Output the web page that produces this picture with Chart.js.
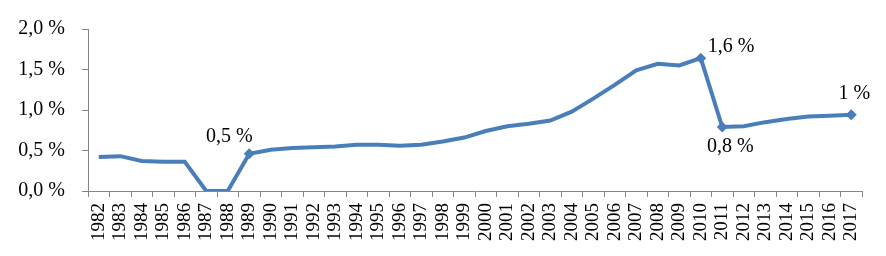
<!DOCTYPE html>
<html>
<head>
<meta charset="utf-8">
<script src="https://cdn.jsdelivr.net/npm/chart.js@4/dist/chart.umd.min.js"></script>
<style>
  html, body { margin: 0; padding: 0; background: #fff; }
  #wrap { width: 886px; height: 256px; }
</style>
</head>
<body>
<div id="wrap"><canvas id="lineChart"></canvas></div>
<script>
var years = ['1982','1983','1984','1985','1986','1987','1988','1989','1990','1991',
  '1992','1993','1994','1995','1996','1997','1998','1999','2000','2001',
  '2002','2003','2004','2005','2006','2007','2008','2009','2010','2011',
  '2012','2013','2014','2015','2016','2017'];

var shareValues = [0.42, 0.43, 0.37, 0.36, 0.36, 0.0, 0.0, 0.46, 0.51, 0.53,
  0.54, 0.55, 0.57, 0.57, 0.56, 0.57, 0.61, 0.66, 0.74, 0.80,
  0.83, 0.87, 0.98, 1.14, 1.31, 1.49, 1.57, 1.55, 1.64, 0.79,
  0.80, 0.85, 0.89, 0.92, 0.93, 0.94];

var yTicks = [0, 0.5, 1.0, 1.5, 2.0];

// point labels, null where nothing is shown
var pointLabels = {7: '0,5 %', 28: '1,6 %', 29: '0,8 %', 35: '1 %'};

var FONT = '"Liberation Serif", "DejaVu Serif", serif';
var BLUE = '#4a7ebb';
var AXIS = '#868686';

function fmtPct(v){
  return v.toFixed(1).replace('.', ',') + ' %';
}

// where each label sits relative to its marker
var labelPlace = {
  7:  {dx: -20, dy: -17, align: 'center'},
  28: {dx: 7,   dy: -11, align: 'left'},
  29: {dx: 8,   dy: 20,  align: 'center'},
  35: {dx: 3,   dy: -21, align: 'center'}
};

var pointLabelPlugin = {
  id: 'pointLabelPlugin',
  afterDatasetsDraw: function(chart){
    var ctx = chart.ctx;
    var meta = chart.getDatasetMeta(0);
    ctx.save();
    ctx.font = '20px ' + FONT;
    ctx.fillStyle = '#000';
    ctx.textBaseline = 'middle';
    for (var k in pointLabels){
      var pt = meta.data[k];
      var p = labelPlace[k];
      ctx.textAlign = p.align;
      ctx.fillText(pointLabels[k], pt.x + p.dx, pt.y + p.dy);
    }
    ctx.restore();
  }
};

var radii = years.map(function(y, i){ return pointLabels[i] ? 5.5 : 0; });

var lineChartCanvas = document.getElementById('lineChart');
var lineChart = new Chart(lineChartCanvas, {
  type: 'line',
  data: {
    labels: years,
    datasets: [{
      data: shareValues,
      borderColor: BLUE,
      backgroundColor: BLUE,
      borderWidth: 4,
      tension: 0,
      pointStyle: 'rectRot',
      pointRadius: radii,
      pointHoverRadius: radii,
      pointBorderWidth: 0
    }]
  },
  options: {
    responsive: true,
    maintainAspectRatio: false,
    animation: false,
    events: [],
    layout: { padding: { top: 22, right: 24, bottom: 10, left: 0 } },
    plugins: { legend: { display: false }, tooltip: { enabled: false } },
    scales: {
      x: {
        type: 'category',
        offset: true,
        grid: { offset: true, drawOnChartArea: false, color: AXIS, tickLength: 6, tickColor: AXIS },
        border: { color: AXIS, width: 1 },
        ticks: {
          autoSkip: false, minRotation: 90, maxRotation: 90,
          color: '#000', padding: 6,
          font: { family: FONT, size: 19 }
        },
        afterFit: function(scale){ scale.height = 55; }
      },
      y: {
        min: 0, max: 2.0,
        afterBuildTicks: function(scale){
          scale.ticks = yTicks.map(function(v){ return {value: v}; });
        },
        grid: { drawOnChartArea: false, color: AXIS, tickLength: 6, tickColor: AXIS },
        border: { color: AXIS, width: 1 },
        ticks: {
          color: '#000', padding: 17,
          font: { family: FONT, size: 20 },
          callback: function(v){ return fmtPct(v); }
        },
        afterFit: function(scale){ scale.width = 88; }
      }
    }
  },
  plugins: [pointLabelPlugin]
});
</script>
</body>
</html>
